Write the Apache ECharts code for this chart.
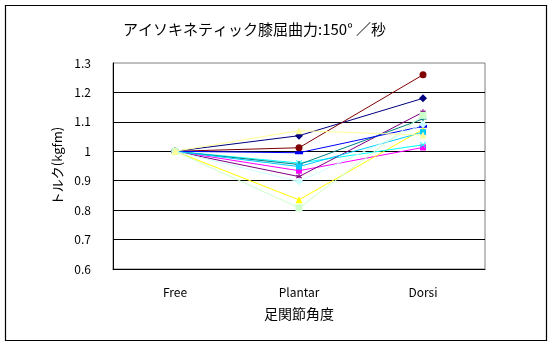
<!DOCTYPE html>
<html>
<head>
<meta charset="utf-8">
<script src="https://cdn.jsdelivr.net/npm/echarts@6/dist/echarts.min.js"></script>
<style>
  html, body { margin: 0; padding: 0; background: #fff; }
  #chart { width: 552px; height: 347px; }
</style>
</head>
<body>
<div id="chart"></div>
<script>
// Knee flexion torque (isokinetic, 150 deg/s) by ankle joint angle
const categories = ['Free', 'Plantar', 'Dorsi'];
const yTicks = [0.6, 0.7, 0.8, 0.9, 1.0, 1.1, 1.2, 1.3];

const s1 = [1.0, 1.053, 1.18];
const s2 = [1.0, 0.934, 1.013];
const s3 = [1.0, 0.835, 1.075];
const s4 = [1.0, 0.960, 1.022];
const s5 = [1.0, 0.914, 1.133];
const s6 = [1.0, 1.012, 1.26];
const s7 = [1.0, 0.955, 1.11];
const s8 = [1.0, 0.995, 1.085];
const s9 = [1.0, 0.948, 1.065];
const s10 = [1.0, 0.897, 1.092];
const s11 = [1.0, 0.808, 1.122];
const s12 = [1.0, 1.070, 1.055];

const FONT = '"Noto Sans CJK JP", "DejaVu Sans", sans-serif';

const plusPath = 'path://M4,0h2v4h4v2h-4v4h-2v-4h-4v-2h4z';
const crossPath = 'path://M1,0L5,4L9,0L10,1L6,5L10,9L9,10L5,6L1,10L0,9L4,5L0,1z';
const starPath = 'path://M4,0h2v3.5l3-1.7l1,1.7l-3,1.5l3,1.5l-1,1.7l-3-1.7v3.5h-2v-3.5l-3,1.7l-1-1.7l3-1.5l-3-1.5l1-1.7l3,1.7z';
const dashPath = 'path://M0,0h10v3h-10z';

const seriesDefs = [
  { data: s1, color: '#000080', symbol: 'diamond', size: 8 },
  { data: s2, color: '#FF00FF', symbol: 'rect', size: 6 },
  { data: s3, color: '#FFFF00', symbol: 'triangle', size: 7 },
  { data: s4, color: '#00FFFF', symbol: crossPath, size: 6 },
  { data: s5, color: '#800080', symbol: starPath, size: 6 },
  { data: s6, color: '#800000', symbol: 'circle', size: 7 },
  { data: s7, color: '#008080', symbol: plusPath, size: 7 },
  { data: s8, color: '#0000FF', symbol: dashPath, size: [8, 3] },
  { data: s9, color: '#00CCFF', symbol: 'rect', size: 6 },
  { data: s10, color: '#CCFFFF', symbol: 'diamond', size: 8 },
  { data: s11, color: '#CCFFCC', symbol: 'rect', size: 7 },
  { data: s12, color: '#FFFF99', symbol: 'triangle', size: 7 }
];

const chart = echarts.init(document.getElementById('chart'), null, { renderer: 'canvas' });

chart.setOption({
  animation: false,
  backgroundColor: '#ffffff',
  title: {
    text: 'アイソキネティック膝屈曲力:150° ／秒',
    left: 123,
    top: 22,
    padding: 0,
    textStyle: { fontFamily: FONT, fontSize: 15, fontWeight: 'normal', color: '#000' }
  },
  graphic: [{
    type: 'rect',
    shape: { x: 5.5, y: 5.5, width: 541, height: 335 },
    style: { fill: 'none', stroke: '#000', lineWidth: 1.2 },
    silent: true,
    z: 100
  }],
  grid: {
    left: 113, right: 67, top: 63, bottom: 78,
    show: true,
    backgroundColor: '#ffffff',
    borderColor: '#808080',
    borderWidth: 1
  },
  xAxis: {
    type: 'category',
    data: categories,
    boundaryGap: true,
    name: '足関節角度',
    nameLocation: 'middle',
    nameGap: 38,
    nameTextStyle: { fontFamily: FONT, fontSize: 14, color: '#000' },
    axisLine: { lineStyle: { color: '#000', width: 1 } },
    axisTick: { show: false },
    axisLabel: { fontFamily: FONT, fontSize: 12, color: '#000', margin: 17 },
    splitLine: { show: false }
  },
  yAxis: {
    type: 'value',
    min: yTicks[0],
    max: yTicks[yTicks.length - 1],
    interval: 0.1,
    name: 'トルク(kgfm)',
    nameLocation: 'middle',
    nameGap: 45,
    nameTextStyle: { fontFamily: FONT, fontSize: 13, color: '#000' },
    axisLine: { show: true, lineStyle: { color: '#000', width: 1 } },
    axisTick: { show: false },
    axisLabel: {
      fontFamily: FONT, fontSize: 12, color: '#000', margin: 22,
      formatter: v => String(Math.round(v * 10) / 10)
    },
    splitLine: { show: true, showMaxLine: false, lineStyle: { color: '#000', width: 1 } }
  },
  series: seriesDefs.map((d, i) => ({
    type: 'line',
    name: 'S' + (i + 1),
    data: d.data,
    symbol: d.symbol,
    symbolSize: d.size,
    showAllSymbol: true,
    z: 2 + i,
    lineStyle: { color: d.color, width: 1 },
    itemStyle: { color: d.color, borderColor: d.color, borderWidth: 0 }
  }))
});
</script>
</body>
</html>
